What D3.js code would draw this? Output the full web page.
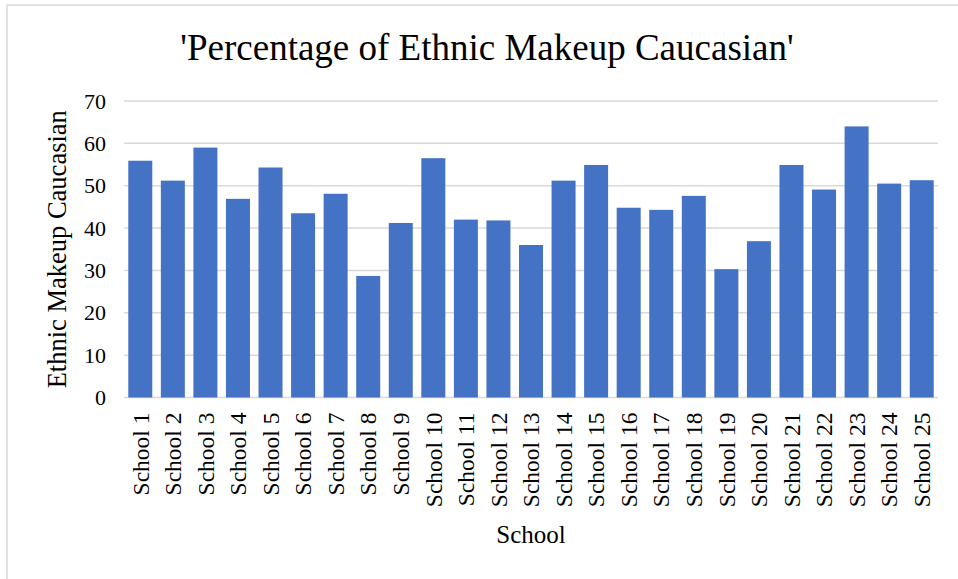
<!DOCTYPE html>
<html>
<head>
<meta charset="utf-8">
<script src="https://cdn.jsdelivr.net/npm/d3@7"></script>
<style>
  html, body { margin: 0; padding: 0; background: #fff; }
  svg { display: block; }
  text { font-family: "Liberation Serif", "Times New Roman", serif; fill: #000; }
</style>
</head>
<body>
<script>
// Share of Caucasian students per school (%)
const schools = ["School 1","School 2","School 3","School 4","School 5","School 6","School 7","School 8","School 9","School 10",
  "School 11","School 12","School 13","School 14","School 15","School 16","School 17","School 18","School 19","School 20",
  "School 21","School 22","School 23","School 24","School 25"];
const caucasianPct = [55.9, 51.2, 59.0, 46.9, 54.3, 43.5, 48.1, 28.7, 41.2, 56.5,
  42.0, 41.8, 36.0, 51.2, 54.9, 44.8, 44.3, 47.6, 30.3, 36.9,
  54.9, 49.1, 64.0, 50.5, 51.3];
const yTicks = [0, 10, 20, 30, 40, 50, 60, 70];

const W = 958, H = 579;
const plot = { left: 124, right: 938, top: 101, bottom: 397.5 };

const svg = d3.select("body").append("svg").attr("width", W).attr("height", H);

// chart frame
svg.append("rect").attr("x", 7).attr("y", 5).attr("width", 960).attr("height", 600)
  .attr("fill", "#fff").attr("stroke", "#d9d9d9").attr("stroke-width", 1.5);

const x = d3.scaleBand().domain(schools).range([plot.left, plot.right])
  .paddingInner(0.263).paddingOuter(0.1315);
const y = d3.scaleLinear().domain([0, 70]).range([plot.bottom, plot.top]);

// gridlines
svg.append("g").selectAll("line").data(yTicks).join("line")
  .attr("x1", plot.left).attr("x2", plot.right)
  .attr("y1", d => y(d)).attr("y2", d => y(d))
  .attr("stroke", "#d9d9d9").attr("stroke-width", 1.5);

// bars
svg.append("g").selectAll("rect").data(caucasianPct).join("rect")
  .attr("x", (d, i) => x(schools[i]))
  .attr("width", x.bandwidth())
  .attr("y", d => y(d))
  .attr("height", d => y(0) - y(d))
  .attr("fill", "#4472C4");

// y axis labels
const yAxis = d3.axisLeft(y).tickValues(yTicks).tickSize(0).tickPadding(0).tickFormat(d3.format("d"));
const yg = svg.append("g").attr("transform", `translate(${106},0)`).call(yAxis);
yg.select(".domain").remove();
yg.selectAll("text").attr("font-size", 22).attr("font-family", "Liberation Serif, serif").attr("fill", "#000");

// x axis labels (rotated)
const xAxis = d3.axisBottom(x).tickSize(0).tickPadding(0);
const xg = svg.append("g").attr("transform", `translate(0,${plot.bottom})`).call(xAxis);
xg.select(".domain").remove();
xg.selectAll("text")
  .attr("font-size", 23.5).attr("font-family", "Liberation Serif, serif").attr("fill", "#000")
  .attr("transform", "rotate(-90)")
  .attr("x", -15).attr("y", 0).attr("dy", "0.35em")
  .attr("text-anchor", "end");

// titles
svg.append("text").attr("x", 487).attr("y", 60).attr("text-anchor", "middle")
  .attr("font-size", 37).text("'Percentage of Ethnic Makeup Caucasian'");

svg.append("text").attr("x", 531).attr("y", 543).attr("text-anchor", "middle")
  .attr("font-size", 25).text("School");

svg.append("text").attr("transform", `translate(66,${(plot.top + plot.bottom) / 2}) rotate(-90)`)
  .attr("text-anchor", "middle").attr("font-size", 26.5).text("Ethnic Makeup Caucasian");
</script>
</body>
</html>
